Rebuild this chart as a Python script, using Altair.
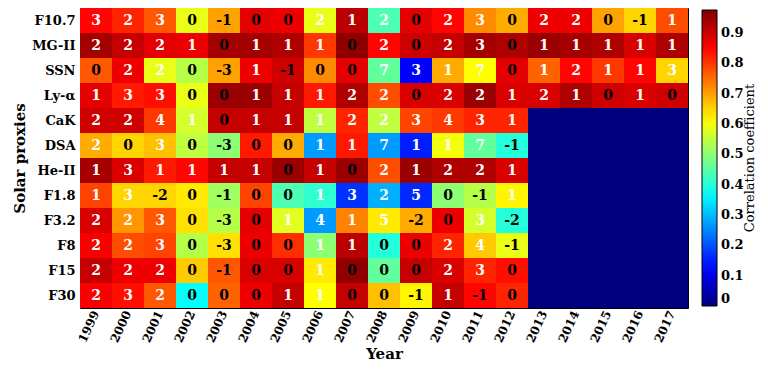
import altair as alt
import pandas as pd

years = [str(y) for y in range(1999, 2018)]
proxies = ["F10.7", "MG-II", "SSN", "Ly-α", "CaK", "DSA", "He-II",
           "F1.8", "F3.2", "F8", "F15", "F30"]

# lag values printed in the cells
lag_f107 = [3, 2, 3, 0, -1, 0, 0, 2, 1, 2, 0, 2, 3, 0, 2, 2, 0, -1, 1]
lag_mg2 = [2, 2, 2, 1, 0, 1, 1, 1, 0, 2, 0, 2, 3, 0, 1, 1, 1, 1, 1]
lag_ssn = [0, 2, 2, 0, -3, 1, -1, 0, 0, 7, 3, 1, 7, 0, 1, 2, 1, 1, 3]
lag_lya = [1, 3, 3, 0, 0, 1, 1, 1, 2, 2, 0, 2, 2, 1, 2, 1, 0, 1, 0]
lag_cak = [2, 2, 4, 1, 0, 1, 1, 1, 2, 2, 3, 4, 3, 1]
lag_dsa = [2, 0, 3, 0, -3, 0, 0, 1, 1, 7, 1, 1, 7, -1]
lag_he2 = [1, 3, 1, 1, 1, 1, 0, 1, 0, 2, 1, 2, 2, 1]
lag_f18 = [1, 3, -2, 0, -1, 0, 0, 1, 3, 2, 5, 0, -1, 1]
lag_f32 = [2, 2, 3, 0, -3, 0, 1, 4, 1, 5, -2, 0, 3, -2]
lag_f8 = [2, 2, 3, 0, -3, 0, 0, 1, 1, 0, 0, 2, 4, -1]
lag_f15 = [2, 2, 2, 0, -1, 0, 0, 1, 0, 0, 0, 2, 3, 0]
lag_f30 = [2, 3, 2, 0, 0, 0, 1, 1, 0, 0, -1, 1, -1, 0]

# correlation coefficients (cell colours)
corr_f107 = [0.85, 0.82, 0.77, 0.59, 0.70, 0.88, 0.87, 0.59, 0.92, 0.44, 0.88, 0.85, 0.72, 0.69, 0.87, 0.87, 0.70, 0.65, 0.78]
corr_mg2 = [0.94, 0.91, 0.88, 0.87, 0.94, 0.94, 0.93, 0.80, 0.96, 0.85, 0.90, 0.91, 0.94, 0.93, 0.95, 0.94, 0.93, 0.89, 0.93]
corr_ssn = [0.77, 0.87, 0.59, 0.54, 0.70, 0.87, 0.90, 0.72, 0.88, 0.46, 0.12, 0.69, 0.61, 0.88, 0.76, 0.85, 0.80, 0.85, 0.65]
corr_lya = [0.88, 0.83, 0.84, 0.59, 0.95, 0.95, 0.91, 0.83, 0.93, 0.78, 0.89, 0.89, 0.95, 0.89, 0.89, 0.93, 0.90, 0.89, 0.90]
corr_cak = [0.90, 0.90, 0.80, 0.57, 0.91, 0.91, 0.91, 0.55, 0.82, 0.55, 0.79, 0.80, 0.82, 0.82, 0.0, 0.0, 0.0, 0.0, 0.0]
corr_dsa = [0.69, 0.65, 0.67, 0.55, 0.50, 0.83, 0.69, 0.27, 0.83, 0.27, 0.15, 0.60, 0.46, 0.40, 0.0, 0.0, 0.0, 0.0, 0.0]
corr_he2 = [0.94, 0.89, 0.83, 0.85, 0.91, 0.91, 0.95, 0.91, 0.95, 0.78, 0.95, 0.93, 0.93, 0.89, 0.0, 0.0, 0.0, 0.0, 0.0]
corr_f18 = [0.79, 0.65, 0.65, 0.63, 0.52, 0.79, 0.44, 0.41, 0.17, 0.29, 0.16, 0.50, 0.54, 0.62, 0.0, 0.0, 0.0, 0.0, 0.0]
corr_f32 = [0.89, 0.71, 0.77, 0.64, 0.54, 0.88, 0.58, 0.27, 0.73, 0.63, 0.69, 0.87, 0.57, 0.40, 0.0, 0.0, 0.0, 0.0, 0.0]
corr_f8 = [0.86, 0.78, 0.79, 0.54, 0.64, 0.87, 0.81, 0.50, 0.92, 0.40, 0.87, 0.82, 0.66, 0.59, 0.0, 0.0, 0.0, 0.0, 0.0]
corr_f15 = [0.91, 0.87, 0.87, 0.66, 0.77, 0.89, 0.89, 0.63, 0.96, 0.46, 0.91, 0.89, 0.82, 0.84, 0.0, 0.0, 0.0, 0.0, 0.0]
corr_f30 = [0.86, 0.84, 0.77, 0.37, 0.76, 0.87, 0.91, 0.61, 0.91, 0.67, 0.62, 0.91, 0.85, 0.82, 0.0, 0.0, 0.0, 0.0, 0.0]

lags = [lag_f107, lag_mg2, lag_ssn, lag_lya, lag_cak, lag_dsa, lag_he2,
        lag_f18, lag_f32, lag_f8, lag_f15, lag_f30]
corrs = [corr_f107, corr_mg2, corr_ssn, corr_lya, corr_cak, corr_dsa, corr_he2,
         corr_f18, corr_f32, corr_f8, corr_f15, corr_f30]

rows = []
for p, lg, cr in zip(proxies, lags, corrs):
    for i, y in enumerate(years):
        has = i < len(lg)
        rows.append({"proxy": p, "year": y, "corr": cr[i],
                     "lag": str(lg[i]) if has else "",
                     "pos": 1 if (has and lg[i] > 0) else 0})
df = pd.DataFrame(rows)

W, H = 608, 300
FONT = "DejaVu Serif"

jet_domain = [0, 0.122, 0.366, 0.61, 0.854, 0.976]
jet_range = ["#00007f", "#0000ff", "#00ffff", "#ffff00", "#ff0000", "#7f0000"]

base = alt.Chart(df).encode(
    x=alt.X("year:O", sort=years, scale=alt.Scale(paddingInner=0, paddingOuter=0),
            axis=alt.Axis(title="Year", labelAngle=-65, ticks=False, domain=False, grid=False,
                          labelFont=FONT, labelFontWeight="bold", labelFontSize=12,
                          labelColor="black", labelPadding=3,
                          titleFont=FONT, titleFontWeight="bold", titleFontSize=15,
                          titleColor="black", titlePadding=3)),
    y=alt.Y("proxy:N", sort=proxies, scale=alt.Scale(paddingInner=0, paddingOuter=0),
            axis=alt.Axis(title="Solar proxies", ticks=False, domain=False, grid=False,
                          labelFont=FONT, labelFontWeight="bold", labelFontSize=13,
                          labelColor="black", labelPadding=5,
                          titleFont=FONT, titleFontWeight="bold", titleFontSize=15,
                          titleColor="black", titlePadding=4)),
)

rects = base.mark_rect().encode(
    color=alt.Color("corr:Q",
                    scale=alt.Scale(domain=jet_domain, range=jet_range, interpolate="rgb"),
                    legend=alt.Legend(title=None, orient="none", legendX=W + 14, legendY=2,
                                      direction="vertical", gradientLength=H - 4,
                                      gradientThickness=15, gradientStrokeColor="black",
                                      gradientStrokeWidth=1,
                                      values=[0, 0.1, 0.2, 0.3, 0.4, 0.5, 0.6, 0.7, 0.8, 0.9],
                                      labelFont=FONT, labelFontWeight="bold", labelFontSize=13,
                                      labelColor="black", labelOffset=4, labelOverlap=False,
                                      labelBaseline="middle", format="~g", padding=0))
)

texts_w = base.mark_text(font=FONT, fontWeight="bold", fontSize=14, color="white").encode(
    text="lag:N"
).transform_filter("datum.pos == 1")

texts_b = base.mark_text(font=FONT, fontWeight="bold", fontSize=14, color="black").encode(
    text="lag:N"
).transform_filter("datum.pos == 0 && datum.lag != ''")

cb_title = alt.Chart(pd.DataFrame({"t": ["Correlation coefficient"]})).mark_text(
    angle=270, font=FONT, fontSize=13, color="black"
).encode(
    x=alt.value(W + 62), y=alt.value(H / 2), text="t:N"
)

chart = alt.layer(rects, texts_w, texts_b, cb_title).properties(
    width=W, height=H,
    autosize=alt.AutoSizeParams(type="none"),
    padding={"left": 72, "top": 0, "right": 72, "bottom": 57},
).configure_view(stroke="black", strokeWidth=1)

chart.save("out.html", embed_options={"renderer": "svg", "actions": False})
